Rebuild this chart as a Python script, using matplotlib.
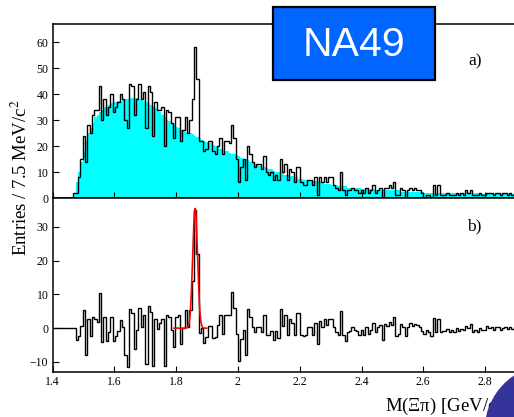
import numpy as np
import matplotlib
matplotlib.use("Agg")
import matplotlib.pyplot as plt
from matplotlib.patches import Rectangle, Ellipse

plt.rcParams['font.family'] = ['Liberation Serif', 'DejaVu Serif']
plt.rcParams['mathtext.fontset'] = 'stix'

# 200 bins of 7.5 MeV from 1.4 to 2.9 GeV
mass_lo = 1.4
bin_width = 0.0075

# mixed-event background (cyan), panel a)
background = [
    0, 0, 0, 0, 0, 0, 0, 0, 0, 2,
    6, 10, 14, 18, 22, 25, 27, 29, 31, 32,
    33, 34, 35, 35.5, 36, 36.5, 37, 37, 37.5, 37.5,
    38, 38, 38, 38.5, 38.5, 38.5, 38.5, 38, 38, 37.5,
    37, 36.5, 36, 35, 34.5, 34, 33, 32, 31, 30,
    29.5, 29, 28, 27.5, 27, 26.5, 26, 25.5, 25, 25,
    24.5, 24, 23.5, 23, 22.5, 22, 21.5, 21, 21, 20.5,
    20, 19.5, 19, 18.5, 18, 18, 17.5, 17, 17, 16.5,
    16, 15.5, 15, 15, 14.5, 14, 13.5, 13, 13, 12.5,
    12, 12, 11.5, 11, 11, 10.5, 10, 10, 9.5, 9.5,
    9, 9, 8.5, 8.5, 8, 8, 7.5, 7.5, 7, 7,
    7, 6.5, 6.5, 6.5, 6, 6, 6, 5.5, 5.5, 5.5,
    5, 5, 5, 4.5, 4.5, 4.5, 4.5, 4, 4, 4,
    4, 4, 4, 3.5, 3.5, 3.5, 3.5, 3.5, 3.5, 3,
    3, 3, 3, 3, 3, 3, 3, 3, 3, 3,
    2.5, 2.5, 2.5, 2.5, 2.5, 2.5, 2.5, 2.5, 2.5, 2.5,
    2, 2, 2, 2, 2, 2, 2, 2, 2, 2,
    2, 2, 2, 2, 2, 2, 2, 2, 2, 2,
    2, 2, 2, 2, 2, 1.5, 1.5, 1.5, 1.5, 1.5,
    1.5, 1.5, 1.5, 1.5, 1.5, 1.5, 1.5, 1.5, 1.5, 1.5,
]

# real-event entries (black), panel a)
entries = [
    0, 0, 0, 0, 0, 0, 0, 0, 0, 2,
    2, 8, 15, 24, 14, 28, 25, 32, 34, 34,
    43, 30, 38, 32, 35, 40, 33, 35, 37, 40,
    38, 30, 27, 44, 43, 32, 38, 44, 38, 41,
    27, 43, 41, 24, 37, 34, 34, 35, 20, 34,
    33, 29, 23, 31, 31, 22, 26, 31, 25, 30,
    38, 58, 46, 22, 22, 18, 19, 22, 22, 18,
    17, 20, 23, 17, 22, 22, 21, 28, 23, 15,
    6, 12, 15, 7, 20, 17, 14, 12, 13, 13,
    11, 16, 10, 9, 10, 7, 9, 7, 15, 10,
    13, 7, 11, 10, 6, 12, 12, 6, 5, 5,
    7, 7, 5, 8, 1, 8, 6, 8, 6, 8,
    8, 5, 4, 3, 10, 3, 1, 3, 3, 4,
    3, 3, 2, 3, 2, 4, 2, 3, 5, 2,
    3, 4, 0, 4, 4, 5, 4, 6, 1, 1,
    4, 3, 0, 3, 4, 3, 4, 3, 3, 2,
    0, 1, 1, 0, 5, 1, 5, 1, 1, 1,
    2, 1, 1, 1, 2, 1, 2, 1, 3, 2,
    3, 1, 1, 1, 2, 1, 1, 2, 2, 2,
    1, 2, 2, 1, 2, 2, 1, 2, 1, 2,
]

# background-subtracted spectrum, panel b)
subtracted = [
    0, 0, 0, 0, 0, 0, 0, 0, 0, 0,
    -3.6, -2.4, 0.6, 5.5, -8.1, 2.6, -2.2, 3.2, 2.8, 1.8,
    10.3, -4.0, 3.4, -3.8, -1.0, 3.4, -3.8, -2.4, -0.8, 2.4,
    0.4, -8.1, -11.5, 5.7, 4.5, -6.1, -0.6, 6.0, 0.4, 3.9,
    -10.5, 6.7, 4.7, -11.1, 2.8, -0.2, 1.4, 2.8, -11.1, 3.8,
    3.2, -0.4, -5.5, 3.4, 3.8, -4.7, 0.0, 5.5, 0.4, 5.5,
    14.0, 35.0, 22.0, -1.5, -0.1, -4.5, -2.6, 0.6, 0.6, -2.8,
    -2.6, 0.8, 3.8, -1.6, 3.8, 3.8, 3.8, 10.6, 6.1, -1.6,
    -9.7, -3.2, -0.4, -7.9, 5.7, 3.4, 0.4, -1.2, 0.4, 0.4,
    -1.2, 4.0, -2.0, -2.0, -0.8, -3.6, -0.8, -2.9, 5.7, 0.6,
    3.8, -2.0, 2.6, 1.6, -2.0, 4.5, 4.5, -2.0, -2.4, -2.0,
    0.4, 0.4, -2.0, 1.4, -4.7, 2.0, 0.4, 2.8, 0.8, 2.8,
    2.6, 0.4, -1.2, -2.0, 5.1, -2.0, -3.8, -1.0, -0.8, 0.2,
    -0.6, -0.8, -2.0, -0.4, -2.0, 0.4, -1.8, -0.4, 1.6, -1.0,
    0.4, 0.8, -3.4, 1.2, 0.6, 1.8, 0.8, 3.4, -2.4, -1.8,
    1.2, 0.4, -2.4, 0.4, 1.4, 0.6, 1.2, 0.8, 0.2, -0.8,
    -1.6, -0.6, -1.2, -2.4, 3.0, -1.2, 2.8, -1.2, -0.8, -0.8,
    -0.2, -1.2, -0.6, -1.2, 0.0, -0.8, -0.2, -0.6, 0.6, 0.0,
    1.2, -1.2, -0.6, -1.0, 0.0, -0.6, -0.6, 0.6, 0.0, 0.4,
    -0.4, 0.2, 0.4, -0.6, 0.0, 0.4, -0.2, 0.2, -0.2, 0.2,
]

# gaussian fit of the Xi(1862) peak
fit_mean = 1.8615
fit_sigma = 0.0078
fit_amp = 35.5
fit_range = (1.793, 1.899)

top_ticks = [0, 10, 20, 30, 40, 50, 60]
bottom_ticks = [-10, 0, 10, 20, 30]
x_ticks = [1.4, 1.6, 1.8, 2.0, 2.2, 2.4, 2.6, 2.8]
x_ticklabels = ["1.4", "1.6", "1.8", "2", "2.2", "2.4", "2.6", "2.8"]

edges = mass_lo + bin_width * np.arange(len(entries) + 1)

W, H = 514, 417
fig = plt.figure(figsize=(W / 100, H / 100), dpi=100)

left = 52.5 / W
width = 463.5 / W
ax1 = fig.add_axes([left, (H - 198) / H, width, 174 / H])
ax2 = fig.add_axes([left, (H - 372) / H, width, 174 / H])

ax1.stairs(background, edges, fill=True, color="#00ffff", lw=0)
ax1.stairs(entries, edges, color="black", lw=1.0)
ax1.set_ylim(0, 67)
ax1.set_yticks(top_ticks)
ax1.set_xticks(x_ticks)
ax1.set_xticklabels([])

ax2.stairs(subtracted, edges, color="black", lw=1.0, baseline=None)
xf = np.linspace(fit_range[0], fit_range[1], 200)
ax2.plot(xf, fit_amp * np.exp(-0.5 * ((xf - fit_mean) / fit_sigma) ** 2),
         color="red", lw=1.2)
ax2.set_ylim(-13, 38.6)
ax2.set_yticks(bottom_ticks)
ax2.set_xticks(x_ticks)
ax2.set_xticklabels(x_ticklabels)

for ax in (ax1, ax2):
    ax.set_xlim(1.4, 2.9)
    ax.tick_params(direction="in", length=4, width=0.8, labelsize=8.5,
                   top=False, right=False, pad=3)
    for s in ax.spines.values():
        s.set_linewidth(1.1)

fig.text(21 / W, 1 - 178 / H, "Entries / 7.5 MeV/c$^2$", rotation=90,
         ha="center", va="center", fontsize=13.5)
fig.text(385 / W, 1 - 405 / H, "M(\u039e\u03c0) [GeV/c$^2$]",
         ha="left", va="center", fontsize=13.5)
fig.text(475 / W, 1 - 61 / H, "a)", ha="center", va="center", fontsize=12.5)
fig.text(474 / W, 1 - 226 / H, "b)", ha="center", va="center", fontsize=12.5)

# NA49 label box
box = Rectangle((273 / W, 1 - 80 / H), 162 / W, 73 / H, transform=fig.transFigure,
                facecolor="#0066ff", edgecolor="black", lw=1.6, zorder=5)
fig.add_artist(box)
fig.text(354 / W, 1 - 45 / H, "NA49", color="white", fontsize=29.5,
         family="Liberation Sans", ha="center", va="center", zorder=6)

# corner of a logo cut off at the bottom right
blob = Ellipse((517, 10), 84, 50, angle=55, transform=None,
               facecolor="#34349a", edgecolor="none", zorder=7)
fig.add_artist(blob)

fig.savefig("out.png", dpi=100)
